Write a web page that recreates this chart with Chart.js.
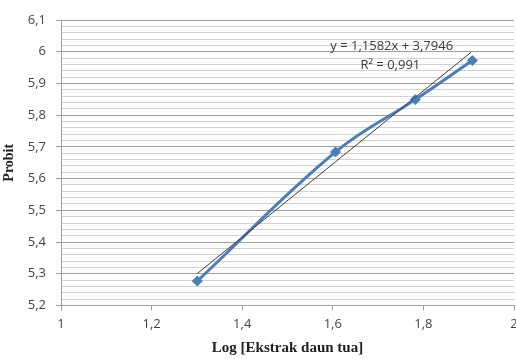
<!DOCTYPE html>
<html lang="id">
  <head>
    <meta charset="UTF-8" />
    <title>Probit vs Log [Ekstrak daun tua]</title>
    <style>
      html, body { margin: 0; padding: 0; background: #fff; overflow: hidden; }
      #wrap { width: 530px; height: 359px; }
    </style>
  </head>
  <body>
    <div id="wrap"><canvas id="myChart"></canvas></div>
    <script src="https://cdn.jsdelivr.net/npm/chart.js"></script>
    <script>
      // values
      const logDose = [1.301, 1.606, 1.782, 1.908];
      const probit = [5.277, 5.684, 5.849, 5.972];
      // linear trend line ends (y = 1,1582x + 3,7946)
      const trendX = [1.301, 1.905];
      const trendY = [5.301, 5.998];
      const equationText = ["y = 1,1582x + 3,7946", "R² = 0,991"];

      const fmt = (v) => String(Math.round(v * 10) / 10).replace(".", ",");
      const isMajor = (v) => Math.round(v * 50) % 5 === 0;

      const labelPlugin = {
        id: "eqLabel",
        afterDatasetsDraw(chart) {
          const c = chart.ctx;
          const xs = chart.scales.x, ys = chart.scales.y;
          c.save();
          c.fillStyle = "#3a3a3a";
          c.font = "13px 'Open Sans'";
          c.textAlign = "center";
          c.textBaseline = "middle";
          c.fillText(equationText[0], xs.getPixelForValue(1.73), ys.getPixelForValue(6.018));
          c.fillText(equationText[1], xs.getPixelForValue(1.727), ys.getPixelForValue(5.958));
          c.restore();
        },
      };

      const ctx = document.getElementById("myChart");
      new Chart(ctx, {
        type: "scatter",
        data: {
          datasets: [
            {
              label: "trend",
              data: trendX.map((x, i) => ({ x: x, y: trendY[i] })),
              showLine: true,
              borderColor: "#3a3a3a",
              borderWidth: 1,
              pointRadius: 0,
              order: 0,
            },
            {
              label: "Probit",
              data: logDose.map((x, i) => ({ x: x, y: probit[i] })),
              showLine: true,
              tension: 0.4,
              borderColor: "#4a7ebb",
              backgroundColor: "#4a7ebb",
              borderWidth: 3,
              pointStyle: "rectRot",
              pointRadius: 5,
              pointBorderWidth: 1,
              order: 1,
            },
          ],
        },
        options: {
          responsive: true,
          maintainAspectRatio: false,
          animation: false,
          layout: { padding: { top: 20, right: 16, left: 0, bottom: 0 } },
          plugins: { legend: { display: false }, tooltip: { enabled: false } },
          scales: {
            x: {
              type: "linear",
              min: 1,
              max: 2,
              afterFit: (s) => { s.height = 53.5; },
              ticks: {
                stepSize: 0.2,
                padding: 6,
                color: "#444",
                font: { family: "'Open Sans'", size: 13 },
                callback: (v) => fmt(v),
              },
              grid: { drawOnChartArea: false, color: "#a0a0a0", tickLength: 5 },
              border: { color: "#a0a0a0" },
              title: {
                display: true,
                text: "Log [Ekstrak daun tua]",
                color: "#1e1e1e",
                font: { family: "'Liberation Serif'", size: 15, weight: "bold" },
                padding: { top: 2, bottom: 2 },
              },
            },
            y: {
              min: 5.2,
              max: 6.1,
              afterFit: (s) => { s.width = 61; },
              ticks: {
                stepSize: 0.02,
                autoSkip: false,
                padding: 10,
                color: "#444",
                font: { family: "'Open Sans'", size: 13 },
                callback: (v) => (isMajor(v) ? fmt(v) : ""),
              },
              grid: {
                color: (c) => (isMajor(c.tick.value) ? "#a0a0a0" : "#d2d2d2"),
                tickColor: (c) => (isMajor(c.tick.value) ? "#a0a0a0" : "rgba(0,0,0,0)"),
                tickLength: 5,
                lineWidth: 1,
              },
              border: { color: "#a0a0a0" },
              title: {
                display: true,
                text: "Probit",
                color: "#1e1e1e",
                font: { family: "'Liberation Serif'", size: 14, weight: "bold" },
                padding: { top: 1, bottom: 0 },
              },
            },
          },
        },
        plugins: [labelPlugin],
      });
    </script>
  </body>
</html>
